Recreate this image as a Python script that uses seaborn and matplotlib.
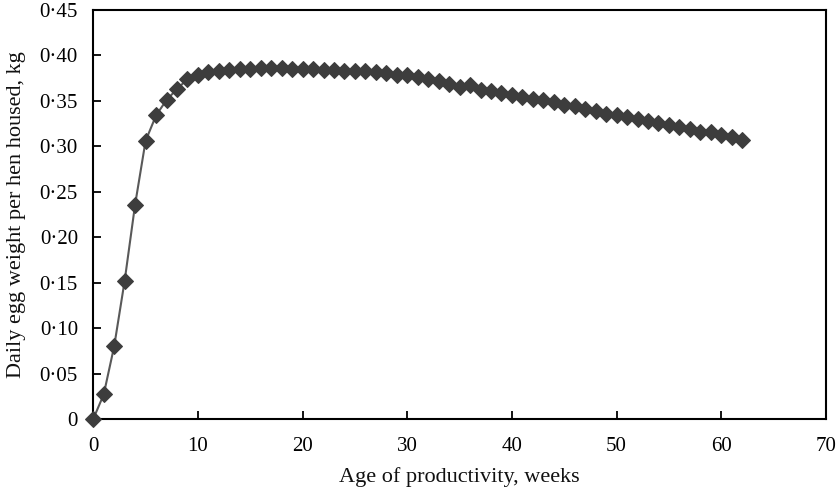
import seaborn as sns
import matplotlib.pyplot as plt
import pandas as pd
from matplotlib.ticker import FuncFormatter, MultipleLocator

# values
weeks = list(range(0, 63))
egg_weight = [
    0.000, 0.027, 0.080, 0.152, 0.236, 0.306, 0.334, 0.351, 0.363, 0.374,
    0.379, 0.382, 0.383, 0.384, 0.385, 0.385, 0.386, 0.3866, 0.386, 0.385,
    0.385, 0.385, 0.3844, 0.3837, 0.383, 0.3826, 0.3826, 0.382, 0.381, 0.379,
    0.379, 0.376, 0.374, 0.372, 0.369, 0.365, 0.367, 0.3625, 0.361, 0.359,
    0.356, 0.354, 0.352, 0.351, 0.3485, 0.3455, 0.344, 0.341, 0.339, 0.336,
    0.334, 0.332, 0.330, 0.3275, 0.3256, 0.3234, 0.3216, 0.319, 0.316, 0.3157,
    0.312, 0.3098, 0.307,
]
x_label = "Age of productivity, weeks"
y_label = "Daily egg weight per hen housed, kg"

df = pd.DataFrame({"week": weeks, "weight": egg_weight})

sns.set_theme(style="white")
plt.rcParams["font.family"] = ["Liberation Serif", "DejaVu Serif"]

fig = plt.figure(figsize=(8.4, 4.91), dpi=100)
ax = fig.add_axes([0.111, 0.1466, 0.8723, 0.833])

sns.lineplot(data=df, x="week", y="weight", ax=ax, color="#595959",
             linewidth=1.5, marker="D", markersize=8,
             markerfacecolor="#3d3d3d", markeredgecolor="#3d3d3d",
             clip_on=False, zorder=3)

ax.set_xlim(0, 70)
ax.set_ylim(0, 0.45)
ax.xaxis.set_major_locator(MultipleLocator(10))
ax.yaxis.set_major_locator(MultipleLocator(0.05))
ax.yaxis.set_major_formatter(FuncFormatter(
    lambda v, p: "0" if abs(v) < 1e-9 else f"{v:.2f}".replace(".", "\u00b7")))

for s in ax.spines.values():
    s.set_color("black")
    s.set_linewidth(1.5)

ax.tick_params(axis="both", direction="in", length=6, width=1.3,
               colors="black", labelsize=15, bottom=True, left=True,
               top=False, right=False)
ax.tick_params(axis="x", pad=13)
ax.tick_params(axis="y", pad=11)
ax.set_xlabel(x_label, fontsize=16, color="#111111", labelpad=8)
ax.set_ylabel(y_label, fontsize=16, color="#111111", labelpad=10)

fig.savefig("out.png", dpi=100, facecolor="white")
